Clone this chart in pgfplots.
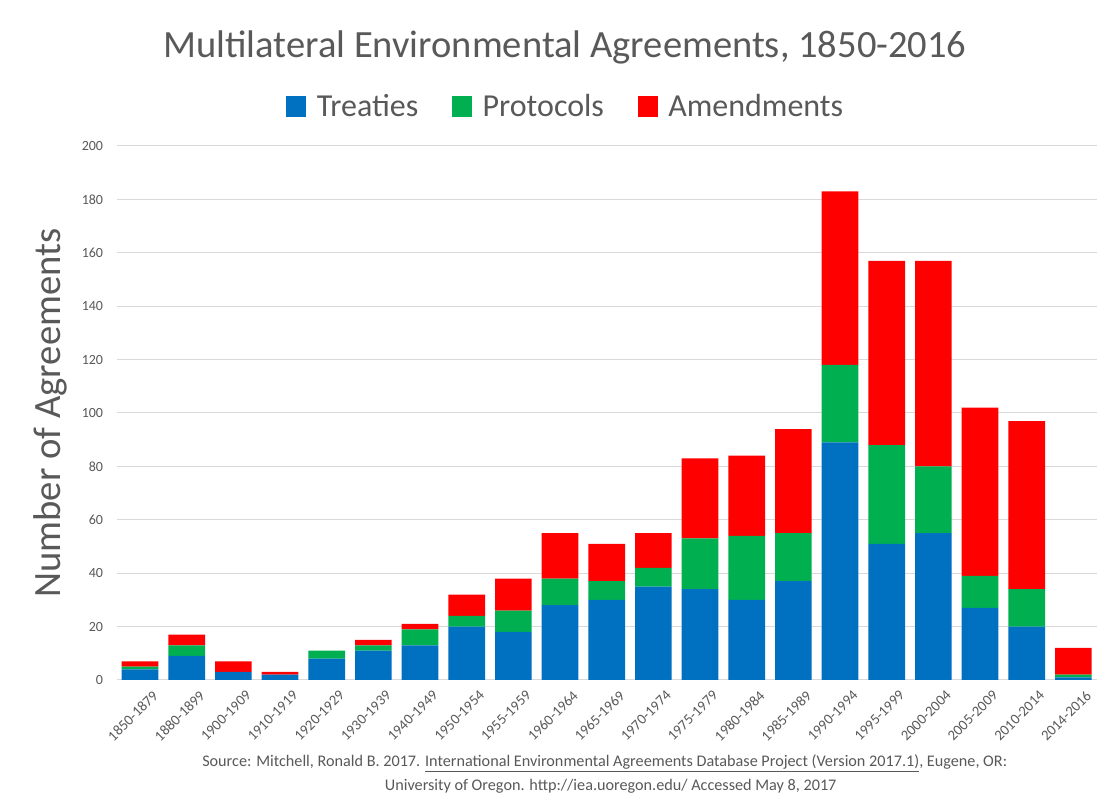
\documentclass[border=0pt]{standalone}
\usepackage{pgfplots}
\usepackage{pgfplotstable}
\pgfplotsset{compat=1.18}
\usepackage{fontspec}
\setmainfont{Carlito}
\definecolor{tblue}{HTML}{0070C0}
\definecolor{tgreen}{HTML}{00B050}
\definecolor{tred}{HTML}{FF0000}
\definecolor{txt}{HTML}{595959}
\definecolor{gridc}{HTML}{D9D9D9}
\pgfplotstableread{
x T P A
0 4 1 2
1 9 4 4
2 3 0 4
3 2 0 1
4 8 3 0
5 11 2 2
6 13 6 2
7 20 4 8
8 18 8 12
9 28 10 17
10 30 7 14
11 35 7 13
12 34 19 30
13 30 24 30
14 37 18 39
15 89 29 65
16 51 37 69
17 55 25 77
18 27 12 63
19 20 14 63
20 1 1 10
}\data
\begin{document}
\begin{tikzpicture}
\useasboundingbox[fill=white] (-87.5pt,-93.75pt) rectangle (741.25pt,510pt);
\begin{axis}[
  at={(0,0)}, anchor=south west,
  scale only axis, width=735pt, height=400.5pt,
  ybar stacked, bar width=27.5pt,
  xmin=-0.5, xmax=20.5, ymin=0, ymax=200,
  ytick={0,20,...,200},
  xtick={0,...,20},
  xticklabels={1850-1879,1880-1899,1900-1909,1910-1919,1920-1929,1930-1939,1940-1949,1950-1954,1955-1959,1960-1964,1965-1969,1970-1974,1975-1979,1980-1984,1985-1989,1990-1994,1995-1999,2000-2004,2005-2009,2010-2014,2014-2016},
  xticklabel style={rotate=45, anchor=north east, inner sep=0pt, font=\fontsize{11}{13}\selectfont, text=txt, yshift=-11.25pt, xshift=1.3pt},
  yticklabel style={font=\fontsize{10.5}{12}\selectfont, text=txt, anchor=east, inner sep=0pt, xshift=-10pt},
  /pgf/number format/assume math mode=true,
  major tick length=0pt,
  tick style={draw=none},
  ymajorgrids, grid style={gridc, line width=0.75pt},
  axis x line*=bottom, axis y line*=left,
  y axis line style={draw=none},
  x axis line style={gridc, line width=0.75pt},
  ylabel={Number of Agreements},
  ylabel style={at={(axis description cs:-0.068,0.5)}, anchor=center, font=\fontsize{29}{34}\selectfont, text=txt},
  legend style={at={(0.4585,1.0749)}, anchor=center, draw=none, fill=none, font=\fontsize{24}{28}\selectfont, text=txt, legend columns=3,
    /tikz/every even column/.append style={column sep=23.25pt},
    /tikz/every odd column/.append style={column sep=6pt}},
  legend cell align=left,
  legend image code/.code={\path[#1,draw=none] (0pt,-8pt) rectangle (15pt,7.2pt);},
]
\addplot[fill=tblue, draw=none] table[x=x,y=T] {\data};
\addplot[fill=tgreen, draw=none] table[x=x,y=P] {\data};
\addplot[fill=tred, draw=none] table[x=x,y=A] {\data};
\legend{Treaties,Protocols,Amendments}
\end{axis}
\node[anchor=base, font=\fontsize{28.9}{33}\selectfont, text=txt] at (336.2pt,466.7pt) {Multilateral Environmental Agreements, 1850-2016};
\node[font=\fontsize{12.15}{14}\selectfont, text=txt] at (366pt,-62.25pt) {Source: Mitchell, Ronald B. 2017. \underline{International Environmental Agreements Database Project (Version 2017.1)}, Eugene, OR:};
\node[font=\fontsize{12.15}{14}\selectfont, text=txt] at (370.5pt,-79.5pt) {University of Oregon. http://iea.uoregon.edu/ Accessed May 8, 2017};
\end{tikzpicture}
\end{document}
